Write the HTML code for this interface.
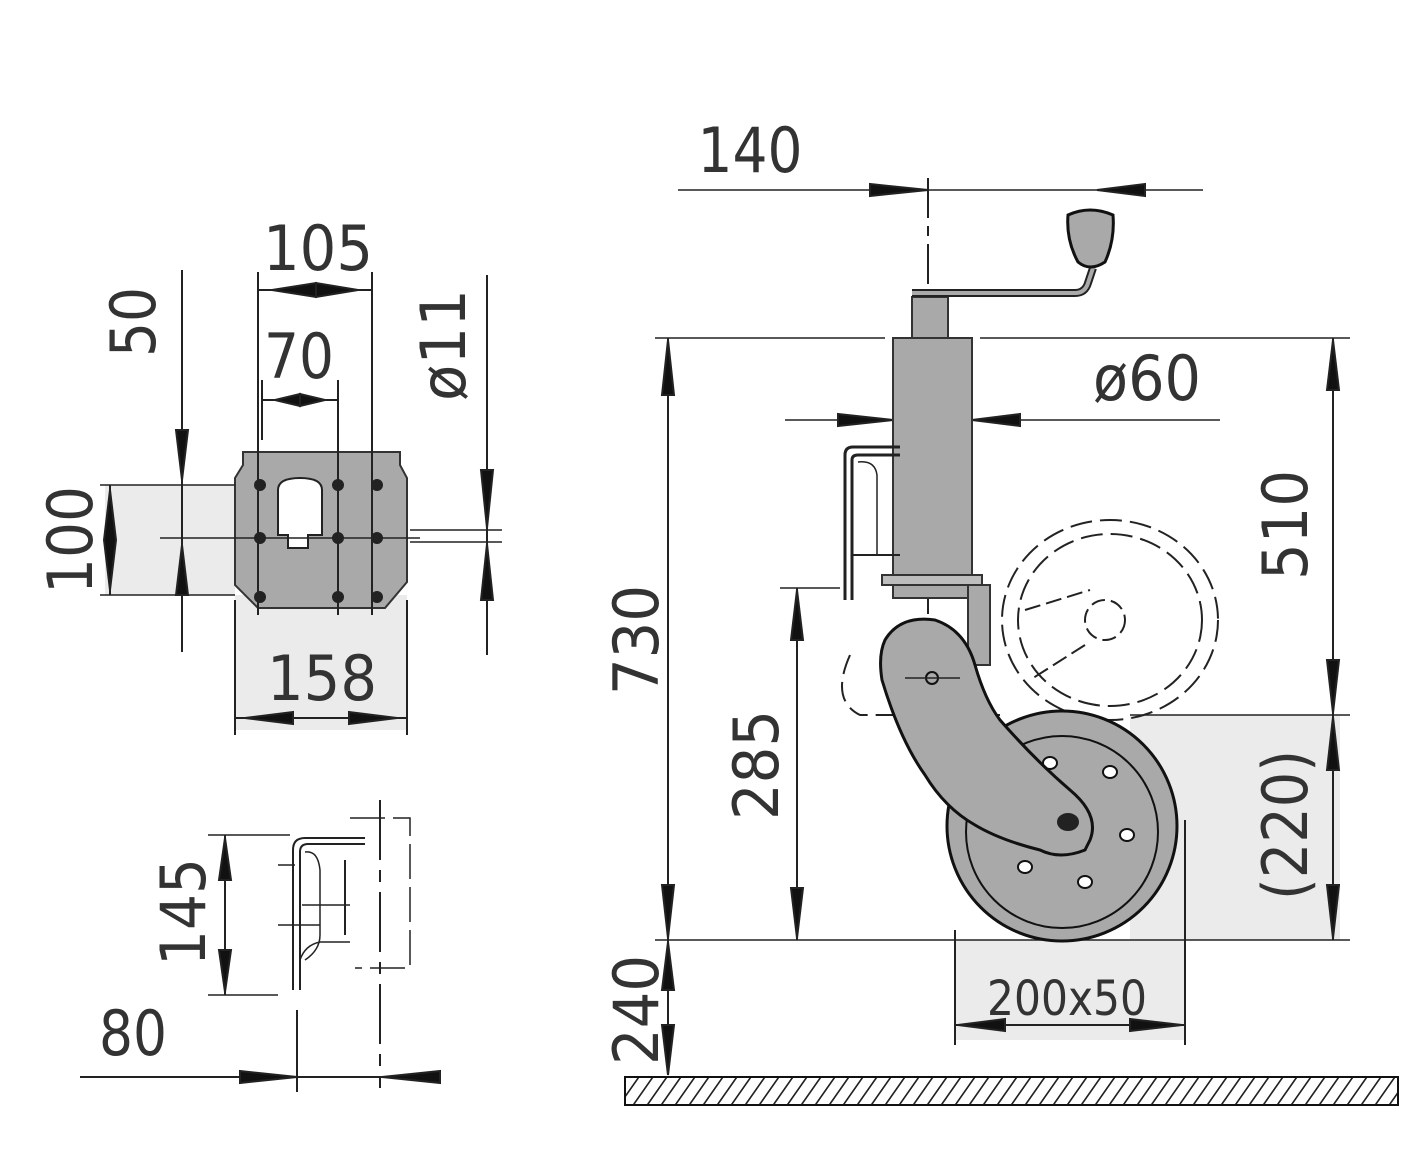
<!DOCTYPE html>
<html><head><meta charset="utf-8"><style>body{margin:0;background:#fff}svg{display:block}</style></head>
<body>
<svg width="1415" height="1151" viewBox="0 0 1415 1151" xmlns="http://www.w3.org/2000/svg" font-family="DejaVu Sans, Liberation Sans, sans-serif" fill="none" stroke="#222" stroke-width="2">
<defs>
<pattern id="h" width="14" height="28" patternUnits="userSpaceOnUse" patternTransform="skewX(-35)"><line x1="7" y1="0" x2="7" y2="28" stroke="#222" stroke-width="2"/></pattern>
</defs>
<!-- light gray areas -->
<g fill="#ebebeb" stroke="none">
<rect x="105" y="485" width="130" height="110"/>
<rect x="235" y="595" width="172" height="135"/>
<rect x="955" y="940" width="230" height="100"/>
<rect x="1130" y="715" width="210" height="225"/>
</g>
<!-- ============ LEFT TOP: plate ============ -->
<g>
<path d="M243 452 H400 V465 L407 478 V582 L385 608 H258 L235 585 V478 L243 465 Z" fill="#a9a9a9" stroke="#333"/>
<path d="M278 535 V490 Q278 478 300 478 Q322 478 322 490 V535 H308 V548 H288 V535 Z" fill="#fff" stroke="#222"/>
<g fill="#222">
<circle cx="260" cy="485" r="5"/><circle cx="338" cy="485" r="5"/><circle cx="377" cy="485" r="5"/>
<circle cx="260" cy="538" r="5"/><circle cx="338" cy="538" r="5"/><circle cx="377" cy="538" r="5"/>
<circle cx="260" cy="597" r="5"/><circle cx="338" cy="597" r="5"/><circle cx="377" cy="597" r="5"/>
</g>
<line x1="258" y1="272" x2="258" y2="615"/><line x1="372" y1="272" x2="372" y2="615"/>
<line x1="338" y1="380" x2="338" y2="615"/><line x1="262" y1="380" x2="262" y2="440"/>
<line x1="258" y1="290" x2="372" y2="290"/>
<path d="M272 290 L316 283 L316 297 Z M358 290 L316 283 L316 297 Z" fill="#111"/>
<line x1="262" y1="400" x2="338" y2="400"/>
<path d="M275 400 L300 394 L300 406 Z M325 400 L300 394 L300 406 Z" fill="#111"/>
<line x1="182" y1="270" x2="182" y2="652"/>
<path d="M182 480 L176 430 L188 430 Z M182 545 L176 595 L188 595 Z" fill="#111"/>
<line x1="100" y1="485" x2="235" y2="485" stroke-width="1.5"/><line x1="100" y1="595" x2="235" y2="595" stroke-width="1.5"/>
<line x1="110" y1="485" x2="110" y2="595"/>
<path d="M110 490 L104 540 L110 590 L116 540 Z" fill="#111"/>
<line x1="160" y1="538" x2="420" y2="538" stroke-width="1.5"/>
<line x1="410" y1="530" x2="502" y2="530" stroke-width="1.5"/><line x1="410" y1="542" x2="502" y2="542" stroke-width="1.5"/>
<line x1="487" y1="275" x2="487" y2="655"/>
<path d="M487 528 L481 470 L493 470 Z M487 544 L481 600 L493 600 Z" fill="#111"/>
<line x1="235" y1="600" x2="235" y2="735"/><line x1="407" y1="600" x2="407" y2="735"/>
<line x1="235" y1="718" x2="407" y2="718"/>
<path d="M245 718 L293 712 L293 724 Z M397 718 L349 712 L349 724 Z" fill="#111"/>
</g>
<g fill="#333" stroke="none" font-size="62">
<text x="318" y="270" text-anchor="middle" textLength="110" lengthAdjust="spacingAndGlyphs">105</text>
<text x="299" y="378" text-anchor="middle" textLength="70" lengthAdjust="spacingAndGlyphs">70</text>
<text x="322" y="700" text-anchor="middle" textLength="110" lengthAdjust="spacingAndGlyphs">158</text>
<text transform="translate(155 322) rotate(-90)" text-anchor="middle" textLength="70" lengthAdjust="spacingAndGlyphs">50</text>
<text transform="translate(92 540) rotate(-90)" text-anchor="middle" textLength="108" lengthAdjust="spacingAndGlyphs">100</text>
<text transform="translate(465 345) rotate(-90)" text-anchor="middle" textLength="112" lengthAdjust="spacingAndGlyphs">ø11</text>
<text transform="translate(205 912) rotate(-90)" text-anchor="middle" textLength="108" lengthAdjust="spacingAndGlyphs">145</text>
<text x="133" y="1055" text-anchor="middle" textLength="68" lengthAdjust="spacingAndGlyphs">80</text>
</g>
<!-- ============ LEFT BOTTOM: profile ============ -->
<g>
<line x1="208" y1="835" x2="290" y2="835" stroke-width="1.5"/><line x1="208" y1="995" x2="278" y2="995" stroke-width="1.5"/>
<line x1="225" y1="835" x2="225" y2="995"/>
<path d="M225 838 L219 880 L231 880 Z M225 992 L219 950 L231 950 Z" fill="#111"/>
<path d="M293 990 V850 Q293 838 305 838 H365 M300 990 V852 Q300 844 308 844 H365" stroke-width="2"/>
<path d="M305 852 Q318 850 320 870 V935 Q320 950 305 960" stroke-width="1.5"/>
<path d="M302 905 L350 905 M300 960 Q305 945 320 942 H350" stroke-width="1.5"/>
<line x1="278" y1="865" x2="295" y2="865" stroke-width="1.5"/><line x1="278" y1="925" x2="320" y2="925" stroke-width="1.5"/>
<line x1="345" y1="860" x2="345" y2="935" stroke-width="2"/>
<path d="M350 818 H410 V968 H355" stroke-width="1.5" stroke-dasharray="35 8"/>
<line x1="380" y1="800" x2="380" y2="1088" stroke-dasharray="60 10 12 10"/>
<line x1="297" y1="1010" x2="297" y2="1092"/>
<line x1="80" y1="1077" x2="440" y2="1077"/>
<path d="M297 1077 L240 1071 L240 1083 Z M382 1077 L440 1071 L440 1083 Z" fill="#111"/>
</g>
<!-- ============ RIGHT: jockey wheel ============ -->
<g>
<!-- dim lines -->
<line x1="678" y1="190" x2="1203" y2="190" stroke-width="1.5"/>
<path d="M928 190 L870 184 L870 196 Z M1097 190 L1145 184 L1145 196 Z" fill="#111"/>
<line x1="928" y1="178" x2="928" y2="700" stroke-dasharray="40 8 10 8"/>
<line x1="655" y1="338" x2="885" y2="338" stroke-width="1.5"/><line x1="980" y1="338" x2="1350" y2="338" stroke-width="1.5"/>
<line x1="785" y1="420" x2="1220" y2="420" stroke-width="1.5"/>
<path d="M893 420 L838 414 L838 426 Z M972 420 L1020 414 L1020 426 Z" fill="#111"/>
<line x1="668" y1="338" x2="668" y2="1075"/>
<path d="M668 340 L662 395 L674 395 Z M668 938 L662 885 L674 885 Z M668 942 L662 990 L674 990 Z M668 1075 L662 1025 L674 1025 Z" fill="#111"/>
<line x1="780" y1="588" x2="840" y2="588" stroke-width="1.5"/>
<line x1="797" y1="588" x2="797" y2="940"/>
<path d="M797 590 L791 640 L803 640 Z M797 938 L791 888 L803 888 Z" fill="#111"/>
<line x1="655" y1="940" x2="1350" y2="940" stroke-width="1.5"/>
<line x1="1130" y1="715" x2="1350" y2="715" stroke-width="1.5"/>
<line x1="1333" y1="338" x2="1333" y2="940"/>
<path d="M1333 340 L1327 390 L1339 390 Z M1333 713 L1327 660 L1339 660 Z M1333 717 L1327 770 L1339 770 Z M1333 938 L1327 885 L1339 885 Z" fill="#111"/>
<line x1="955" y1="930" x2="955" y2="1045"/><line x1="1185" y1="820" x2="1185" y2="1045"/>
<line x1="955" y1="1025" x2="1185" y2="1025"/>
<path d="M958 1025 L1005 1019 L1005 1031 Z M1182 1025 L1130 1019 L1130 1031 Z" fill="#111"/>
<!-- dashed alt wheel -->
<ellipse cx="1110" cy="620" rx="108" ry="100" stroke-dasharray="22 8"/>
<ellipse cx="1110" cy="620" rx="92" ry="86" stroke-dasharray="22 8"/>
<ellipse cx="1105" cy="620" rx="20" ry="20" stroke-dasharray="14 6"/>
<path d="M850 655 Q830 700 860 715 L1000 715" stroke-dasharray="20 8"/>
<path d="M1025 610 L1090 590 M1085 645 L1030 680" stroke-dasharray="16 6"/>
<!-- wheel -->
<circle cx="1062" cy="826" r="115" fill="#a9a9a9" stroke="#111" stroke-width="3"/>
<circle cx="1062" cy="832" r="96" stroke="#111"/>
<g fill="#fff" stroke="#111" stroke-width="2">
<ellipse cx="1050" cy="763" rx="7" ry="6"/><ellipse cx="1110" cy="772" rx="7" ry="6"/>
<ellipse cx="1127" cy="835" rx="7" ry="6"/><ellipse cx="1085" cy="882" rx="7" ry="6"/>
<ellipse cx="1025" cy="867" rx="7" ry="6"/>
</g>
<!-- tube -->
<rect x="912" y="297" width="36" height="42" fill="#a9a9a9" stroke="#333"/>
<rect x="893" y="338" width="79" height="260" fill="#a9a9a9" stroke="#333"/>
<rect x="882" y="575" width="100" height="10" fill="#bdbdbd" stroke="#333"/>
<path d="M968 585 H990 V665 H968 Z" fill="#a9a9a9" stroke="#333"/>
<!-- side bracket -->
<path d="M845 600 V455 Q845 447 853 447 H900 M852 600 V460 Q852 455 858 455 H900" fill="none" stroke="#222" stroke-width="3"/>
<path d="M858 462 Q875 460 877 475 V555" stroke-width="1.5"/>
<line x1="852" y1="555" x2="900" y2="555" stroke-width="2"/>
<!-- crank -->
<path d="M912 293 H1075 Q1085 293 1088 283 L1093 268" stroke="#222" stroke-width="8"/>
<path d="M912 293 H1075 Q1085 293 1088 283 L1093 268" stroke="#aaa" stroke-width="4"/>
<path d="M1068 215 Q1090 205 1113 215 Q1115 240 1105 262 Q1090 272 1078 262 Q1066 240 1068 215 Z" fill="#a9a9a9" stroke="#111" stroke-width="3"/>
<!-- arm -->
<path d="M885 640 Q900 615 935 620 Q965 630 975 665 Q985 700 1000 720 Q1035 760 1070 790 Q1100 815 1090 840 L1085 850 Q1060 860 1040 850 Q1000 840 975 825 Q945 808 925 775 Q900 740 882 680 Q878 655 885 640 Z" fill="#a9a9a9" stroke="#111" stroke-width="3"/>
<ellipse cx="1068" cy="822" rx="10" ry="8" fill="#222"/>
<circle cx="932" cy="678" r="6" fill="none" stroke="#111"/>
<line x1="905" y1="678" x2="960" y2="678" stroke-width="1.5"/>
<!-- ground -->
<rect x="625" y="1077" width="773" height="28" fill="url(#h)" stroke="#111"/>
</g>
<g fill="#333" stroke="none" font-size="62">
<text x="750" y="172" text-anchor="middle" textLength="105" lengthAdjust="spacingAndGlyphs">140</text>
<text x="1147" y="400" text-anchor="middle" textLength="108" lengthAdjust="spacingAndGlyphs">ø60</text>
<text transform="translate(658 640) rotate(-90)" text-anchor="middle" textLength="110" lengthAdjust="spacingAndGlyphs">730</text>
<text transform="translate(778 765) rotate(-90)" text-anchor="middle" textLength="110" lengthAdjust="spacingAndGlyphs">285</text>
<text transform="translate(1307 525) rotate(-90)" text-anchor="middle" textLength="110" lengthAdjust="spacingAndGlyphs">510</text>
<text transform="translate(1307 825) rotate(-90)" text-anchor="middle" textLength="150" lengthAdjust="spacingAndGlyphs">(220)</text>
<text transform="translate(658 1010) rotate(-90)" text-anchor="middle" textLength="110" lengthAdjust="spacingAndGlyphs">240</text>
<text x="1067" y="1015" text-anchor="middle" font-size="48" textLength="160" lengthAdjust="spacingAndGlyphs">200x50</text>
</g>
</svg>
</body></html>
